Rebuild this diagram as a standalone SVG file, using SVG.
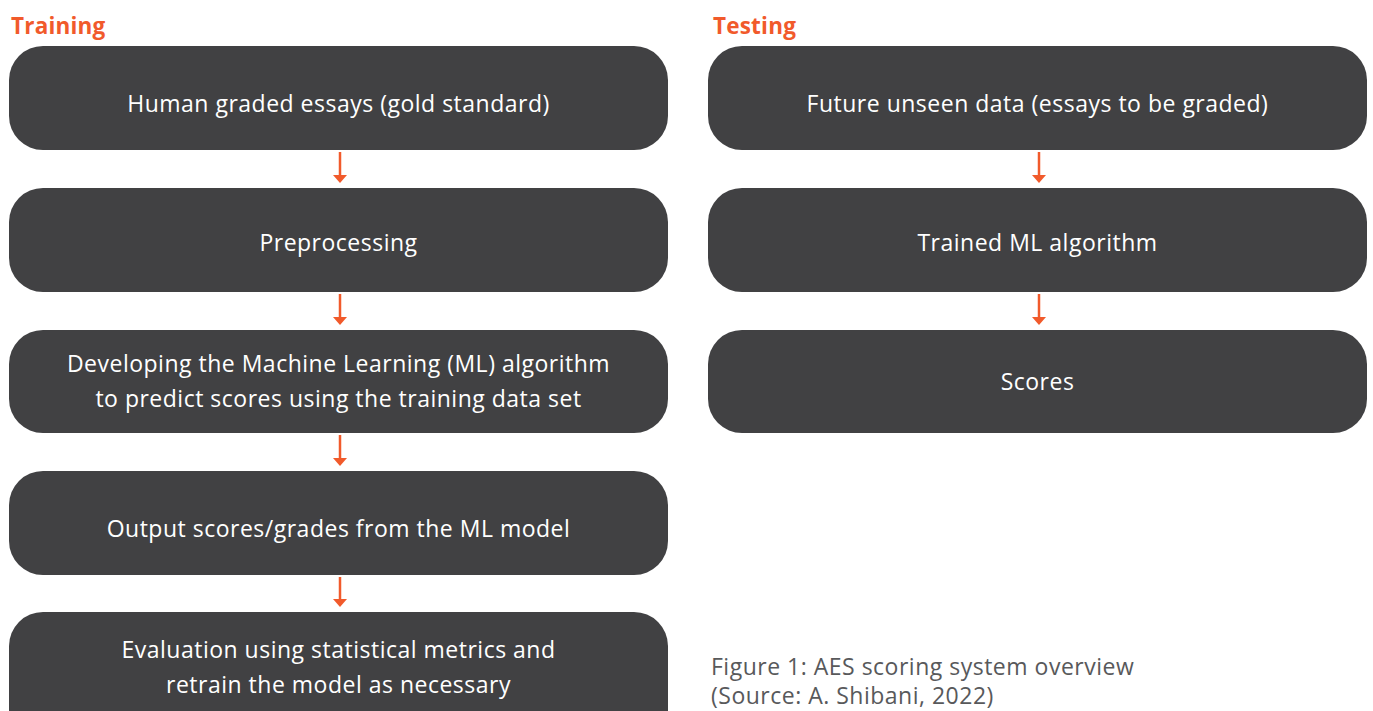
<svg xmlns="http://www.w3.org/2000/svg" width="1373" height="711" viewBox="0 0 1373 711">
<defs>
<style>
.box{fill:#414143;}
.t{fill:#ffffff;font-family:"Open Sans","Liberation Sans",sans-serif;font-size:23px;letter-spacing:0.5px;text-anchor:middle;}
.h{fill:#f15a2b;font-family:"Open Sans","Liberation Sans",sans-serif;font-size:22.5px;letter-spacing:0.2px;font-weight:bold;}
.cap{fill:#58595b;font-family:"Open Sans","Liberation Sans",sans-serif;font-size:23px;letter-spacing:0.5px;}
.arr{stroke:#f15a2b;stroke-width:2.5;fill:none;}
.head{fill:#f15a2b;}
</style>
</defs>
<rect width="1373" height="711" fill="#ffffff"/>
<text class="h" x="11" y="34">Training</text>
<text class="h" x="713" y="34">Testing</text>
<g id="train1"><rect class="box" x="9" y="46" width="659" height="104" rx="34"/><text class="t" x="338.5" y="112">Human graded essays (gold standard)</text></g>
<g id="train2"><rect class="box" x="9" y="188" width="659" height="104" rx="34"/><text class="t" x="338.5" y="251">Preprocessing</text></g>
<g id="train3"><rect class="box" x="9" y="330" width="659" height="103" rx="34"/><text class="t" x="338.5" y="372">Developing the Machine Learning (ML) algorithm</text><text class="t" x="338.5" y="407">to predict scores using the training data set</text></g>
<g id="train4"><rect class="box" x="9" y="471" width="659" height="104" rx="34"/><text class="t" x="338.5" y="537">Output scores/grades from the ML model</text></g>
<g id="train5"><rect class="box" x="9" y="612" width="659" height="140" rx="34"/><text class="t" x="338.5" y="658">Evaluation using statistical metrics and</text><text class="t" x="338.5" y="693">retrain the model as necessary</text></g>
<g id="test1"><rect class="box" x="708" y="46" width="659" height="104" rx="34"/><text class="t" x="1037.5" y="112">Future unseen data (essays to be graded)</text></g>
<g id="test2"><rect class="box" x="708" y="188" width="659" height="104" rx="34"/><text class="t" x="1037.5" y="251">Trained ML algorithm</text></g>
<g id="test3"><rect class="box" x="708" y="330" width="659" height="103" rx="34"/><text class="t" x="1037.5" y="390">Scores</text></g>
<g id="connectors">
<line class="arr" x1="340" y1="152" x2="340" y2="176"/><polygon class="head" points="333,175 347,175 340,183"/>
<line class="arr" x1="340" y1="294" x2="340" y2="318"/><polygon class="head" points="333,317 347,317 340,325"/>
<line class="arr" x1="340" y1="435" x2="340" y2="459"/><polygon class="head" points="333,458 347,458 340,466"/>
<line class="arr" x1="340" y1="577" x2="340" y2="600"/><polygon class="head" points="333,599 347,599 340,607"/>
<line class="arr" x1="1039" y1="152" x2="1039" y2="176"/><polygon class="head" points="1032,175 1046,175 1039,183"/>
<line class="arr" x1="1039" y1="294" x2="1039" y2="318"/><polygon class="head" points="1032,317 1046,317 1039,325"/>
</g>
<text class="cap" x="711" y="675">Figure 1: AES scoring system overview</text>
<text class="cap" x="711" y="704">(Source: A. Shibani, 2022)</text>
</svg>
